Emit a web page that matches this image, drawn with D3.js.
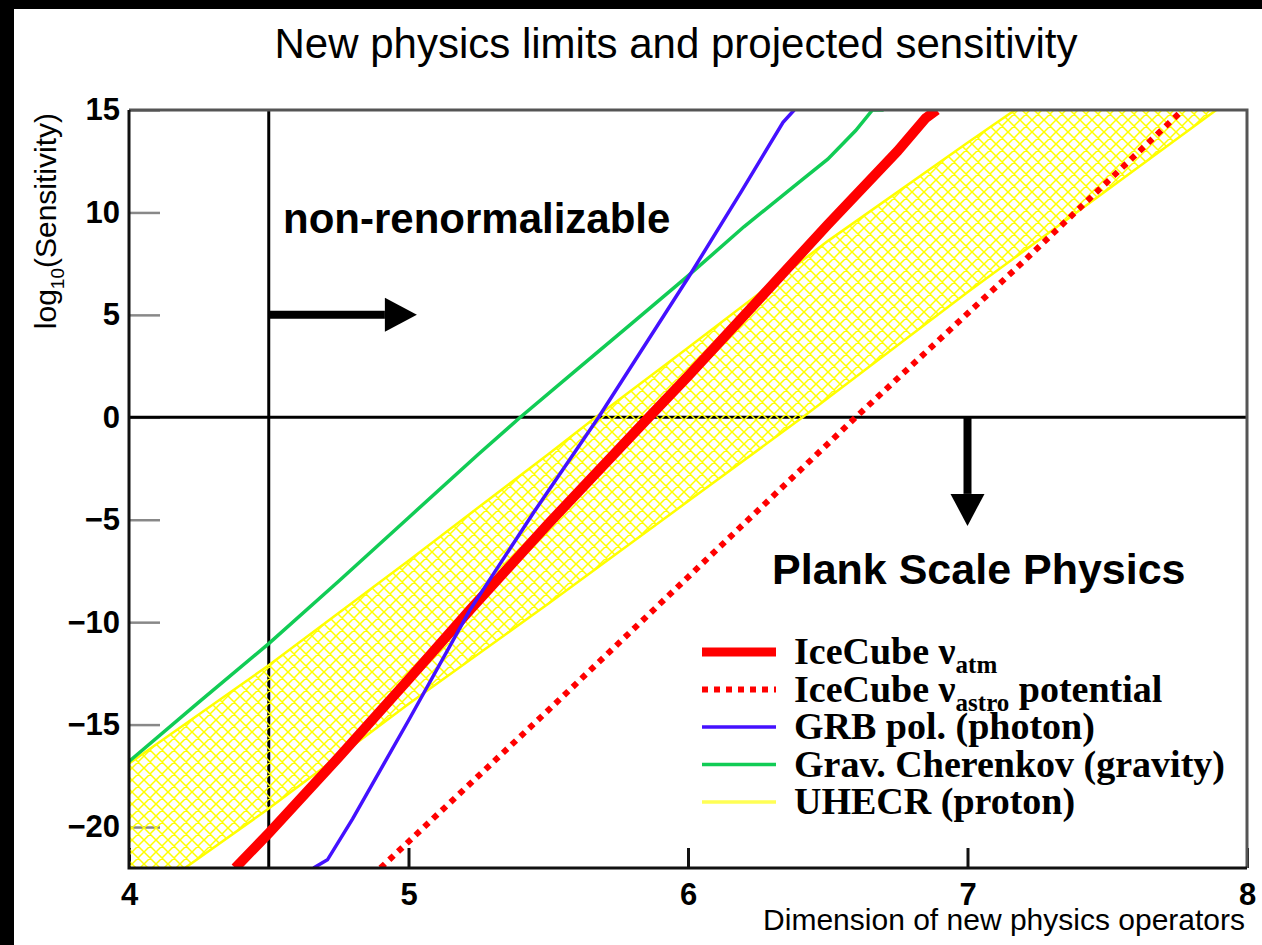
<!DOCTYPE html>
<html>
<head>
<meta charset="utf-8">
<script src="https://cdn.jsdelivr.net/npm/d3@7"></script>
<style>
  body { margin: 0; background: #fff; }
  svg { display: block; }
</style>
</head>
<body>
<div class="chart"></div>
<script>
// values
var xTicks = [4, 5, 6, 7, 8];
var yTicks = [15, 10, 5, 0, -5, -10, -15, -20];

var iceAtm = [[4.38,-22],[4.5,-20.3],[4.75,-16.6],[5.0,-12.8],[5.22,-9.4],[5.5,-5.2],[5.86,0],[6.0,2.0],[6.25,5.7],[6.5,9.4],[6.75,13.0],[6.85,14.6],[6.89,15]];
var iceAstro = [[4.9,-22],[5.5,-14.3],[6.0,-7.8],[6.6,0],[7.2,7.6],[7.77,15]];
var grbPol = [[4.66,-22],[4.71,-21.6],[4.8,-19.6],[5.0,-14.8],[5.22,-9.4],[5.45,-4.6],[5.68,0],[6.0,6.8],[6.19,11.0],[6.34,14.4],[6.38,15]];
var gravCher = [[4.0,-16.8],[4.25,-13.9],[4.5,-11.05],[4.75,-8.0],[5.0,-4.9],[5.25,-1.8],[5.4,0],[5.6,2.3],[5.8,4.6],[6.0,6.9],[6.2,9.3],[6.4,11.5],[6.5,12.6],[6.6,14.0],[6.66,15],[6.7,15]];
var uhecrUpper = [[4.0,-16.9],[4.5,-12.1],[5.0,-7.0],[5.5,-1.8],[5.67,0],[6.0,3.4],[6.5,8.6],[7.0,13.4],[7.17,15]];
var uhecrLower = [[4.2,-22],[4.5,-19.1],[5.0,-14.0],[5.5,-9.1],[6.0,-4.1],[6.41,0],[7.0,6.1],[7.5,11.1],[7.89,15]];

var renormLine = 4.5;
var arrowRight = [[4.5,5],[5.03,5]];
var arrowDown = [[7,0],[7,-5.3]];

var legendNames = [["IceCube ν","atm",""],["IceCube ν","astro"," potential"],["GRB pol. (photon)","",""],["Grav. Cherenkov (gravity)","",""],["UHECR (proton)","",""]];

var width = 1262, height = 945;
var pLeft = 129, pRight = 1247, pTop = 110, pBottom = 868;

var svg = d3.select(".chart").append("svg")
  .attr("width", width)
  .attr("height", height);

// black strips of the screenshot
svg.append("rect").attr("x",0).attr("y",0).attr("width",width).attr("height",9).attr("fill","#000");
svg.append("rect").attr("x",0).attr("y",0).attr("width",14).attr("height",height).attr("fill","#000");

var x = d3.scaleLinear().domain([4, 8]).range([pLeft, pRight]);
var y = d3.scaleLinear().domain([-22, 15]).range([pBottom, pTop]);

var defs = svg.append("defs");
defs.append("clipPath").attr("id","plotclip")
  .append("rect").attr("x",pLeft).attr("y",pTop).attr("width",pRight-pLeft).attr("height",pBottom-pTop);

var pat = defs.append("pattern").attr("id","hatch")
  .attr("patternUnits","userSpaceOnUse")
  .attr("width",12).attr("height",12);
pat.append("path").attr("d","M0,0L12,12M12,0L0,12M-1,11L1,13M11,-1L13,1M-1,1L1,-1M11,13L13,11")
  .attr("stroke","#ffff00").attr("stroke-width",1.5).attr("fill","none");

// title
svg.append("text")
  .attr("x", 676).attr("y", 58)
  .attr("text-anchor","middle")
  .style("font-family","'Liberation Sans', Arial, sans-serif")
  .style("font-size","42px")
  .text("New physics limits and projected sensitivity");

// axes
var yAxis = d3.axisLeft(y).tickValues(yTicks).tickSize(-31).tickPadding(9);
var gy = svg.append("g").attr("transform","translate(" + pLeft + ",0)").call(yAxis);
gy.select(".domain").remove();
gy.selectAll(".tick line").attr("stroke","#888").attr("stroke-width",2.5);
gy.selectAll(".tick text")
  .style("font-family","'Liberation Sans', Arial, sans-serif")
  .style("font-size","31px").style("font-weight","bold").attr("fill","#000");

var xAxis = d3.axisBottom(x).tickValues(xTicks).tickSize(-20).tickPadding(15).tickFormat(d3.format("d"));
var gx = svg.append("g").attr("transform","translate(0," + pBottom + ")").call(xAxis);
gx.select(".domain").remove();
gx.selectAll(".tick line").attr("stroke","#111").attr("stroke-width",3);
gx.selectAll(".tick text")
  .style("font-family","'Liberation Sans', Arial, sans-serif")
  .style("font-size","31px").style("font-weight","bold").attr("fill","#000");

var plot = svg.append("g").attr("clip-path","url(#plotclip)");

// reference lines
plot.append("line")
  .attr("x1", x(renormLine)).attr("x2", x(renormLine))
  .attr("y1", pTop).attr("y2", pBottom)
  .attr("stroke","#000").attr("stroke-width",3);
plot.append("line")
  .attr("x1", pLeft).attr("x2", pRight)
  .attr("y1", y(0)).attr("y2", y(0))
  .attr("stroke","#000").attr("stroke-width",3);

// UHECR band
var band = uhecrUpper.concat(uhecrLower.slice().reverse()).concat([[x.domain()[0], y.domain()[0]]]);
plot.append("path")
  .attr("d", "M" + band.map(function(d){ return x(d[0]) + "," + y(d[1]); }).join("L") + "Z")
  .attr("fill","url(#hatch)");

var line = d3.line()
  .x(function(d){ return x(d[0]); })
  .y(function(d){ return y(d[1]); });

[uhecrUpper, uhecrLower].forEach(function(s){
  plot.append("path").attr("d", line(s))
    .attr("fill","none").attr("stroke","#ffff00").attr("stroke-width",2.5);
});

plot.append("path").attr("d", line(gravCher))
  .attr("fill","none").attr("stroke","#11cc55").attr("stroke-width",3.5);
plot.append("path").attr("d", line(iceAstro))
  .attr("fill","none").attr("stroke","#ff0000").attr("stroke-width",6)
  .attr("stroke-dasharray","6,6");
plot.append("path").attr("d", line(iceAtm))
  .attr("fill","none").attr("stroke","#ff0000").attr("stroke-width",10)
  .attr("stroke-linejoin","round");
plot.append("path").attr("d", line(grbPol))
  .attr("fill","none").attr("stroke","#4411ff").attr("stroke-width",3.5);

// frame
svg.append("path")
  .attr("d","M" + pLeft + "," + pTop + "H" + pRight + "V" + pBottom)
  .attr("fill","none").attr("stroke","#555").attr("stroke-width",3);
svg.append("path")
  .attr("d","M" + pLeft + "," + pTop + "V" + pBottom + "H" + pRight)
  .attr("fill","none").attr("stroke","#111").attr("stroke-width",3);

// arrows
function arrow(from, to){
  var x0 = x(from[0]), y0 = y(from[1]), x1 = x(to[0]), y1 = y(to[1]);
  var len = Math.sqrt((x1-x0)*(x1-x0) + (y1-y0)*(y1-y0));
  var ux = (x1-x0)/len, uy = (y1-y0)/len;
  var hx = x1 - ux*32, hy = y1 - uy*32;
  svg.append("line")
    .attr("x1", x0).attr("y1", y0).attr("x2", hx).attr("y2", hy)
    .attr("stroke","#000").attr("stroke-width",8);
  svg.append("path")
    .attr("d","M" + x1 + "," + y1 + "L" + (hx - uy*17) + "," + (hy + ux*17) + "L" + (hx + uy*17) + "," + (hy - ux*17) + "Z")
    .attr("fill","#000");
}
arrow(arrowRight[0], arrowRight[1]);
arrow(arrowDown[0], arrowDown[1]);

svg.append("text")
  .attr("x", 283).attr("y", 233)
  .style("font-family","'Liberation Sans', Arial, sans-serif")
  .style("font-size","42px").style("font-weight","bold")
  .text("non-renormalizable");
svg.append("text")
  .attr("x", 772).attr("y", 584)
  .style("font-family","'Liberation Sans', Arial, sans-serif")
  .style("font-size","43px").style("font-weight","bold")
  .text("Plank Scale Physics");

// axis titles
svg.append("text")
  .attr("x", 1245).attr("y", 930)
  .attr("text-anchor","end")
  .style("font-family","'Liberation Sans', Arial, sans-serif")
  .style("font-size","30px")
  .text("Dimension of new physics operators");

var ylab = svg.append("text")
  .attr("transform","translate(56,113) rotate(-90)")
  .attr("text-anchor","end")
  .style("font-family","'Liberation Sans', Arial, sans-serif")
  .style("font-size","30px");
ylab.append("tspan").text("log");
ylab.append("tspan").attr("dy",8).style("font-size","19px").text("10");
ylab.append("tspan").attr("dy",-8).text("(Sensitivity)");

// legend
var legStyles = [
  {color:"#ff0000", w:9, dash:null},
  {color:"#ff0000", w:6, dash:"6,6"},
  {color:"#4411ff", w:3.5, dash:null},
  {color:"#11cc55", w:3.5, dash:null},
  {color:"#ffff55", w:3.5, dash:null}
];
var leg = svg.append("g");
legendNames.forEach(function(n, i){
  var cy = 652 + i*37.5;
  var s = legStyles[i];
  leg.append("line")
    .attr("x1",702).attr("x2",776).attr("y1",cy).attr("y2",cy)
    .attr("stroke",s.color).attr("stroke-width",s.w)
    .attr("stroke-dasharray",s.dash);
  var t = leg.append("text")
    .attr("x",794).attr("y",cy + 12)
    .style("font-family","'Liberation Serif', 'Times New Roman', serif")
    .style("font-size","38px").style("font-weight","bold");
  t.append("tspan").text(n[0]);
  if(n[1]){
    t.append("tspan").attr("dy",9).style("font-size","25px").text(n[1]);
    t.append("tspan").attr("dy",-9).text(n[2]);
  }
});
</script>
</body>
</html>
